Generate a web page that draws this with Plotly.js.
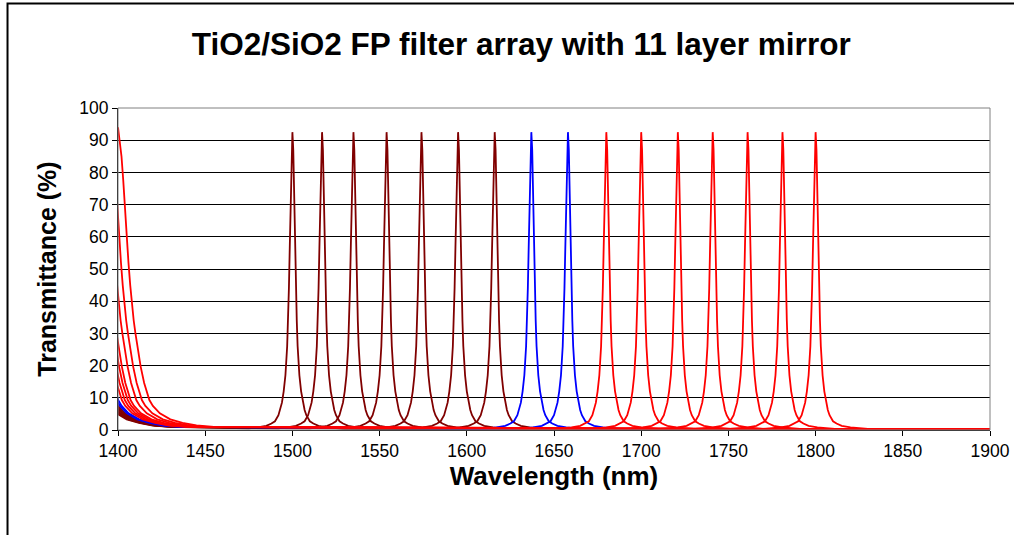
<!DOCTYPE html>
<html>
<head>
<meta charset="utf-8">
<script src="https://cdn.plot.ly/plotly-3.0.1.min.js"></script>
<style>
  html, body { margin: 0; padding: 0; background: #ffffff; }
  #chart { width: 1014px; height: 535px; }
</style>
</head>
<body>
<div id="chart"></div>
<script>
// Peak centre wavelength (nm) of each filter
const PEAK_CENTERS = [1500, 1517, 1535, 1554, 1574, 1595, 1616, 1637, 1658, 1680, 1700, 1721, 1741, 1761, 1781, 1800];
const SERIES_COLORS = ['#800000', '#800000', '#800000', '#800000', '#800000', '#800000', '#800000',
                       '#0000FF', '#0000FF',
                       '#FF0000', '#FF0000', '#FF0000', '#FF0000', '#FF0000', '#FF0000', '#FF0000'];
// Shape of one transmission peak: offset from centre (nm) and transmittance (%)
const PEAK_DX = [-30, -25, -20, -15, -12, -10, -8, -7, -6, -5, -4, -3, -2.5, -2, -1.5, -1, -0.5, 0,
                 0.5, 1, 1.5, 2, 2.5, 3, 4, 5, 6, 7, 8, 10, 12, 15, 20, 25, 30];
const PEAK_T  = [0.35, 0.5, 0.8, 1.3, 2.0, 2.7, 4.6, 6.2, 8.5, 12, 17, 26, 34, 44, 57, 72, 87, 92.5,
                 87, 72, 57, 44, 34, 26, 17, 12, 8.5, 6.2, 4.6, 2.7, 2.0, 1.3, 0.8, 0.5, 0.35];
// Short-wavelength edge (stop-band edge)
const TAIL_X = [1400, 1401, 1402, 1403, 1404, 1405, 1406, 1407, 1408, 1409, 1410, 1411, 1413, 1415, 1418, 1420, 1424, 1430, 1437, 1445, 1455];
const TAIL_T = [94, 90, 85, 77.6, 68.3, 61, 52, 45, 39, 34, 30, 26, 19.7, 14.6, 9.3, 7.5, 5.2, 3.3, 2.2, 1.4, 1.0];
// How far (nm) each series' edge sits to the left of the uppermost one
const TAIL_SHIFT = [25, 24, 23.3, 22.6, 21.7, 20.9, 20, 18.9, 17.9, 15.8, 14.1, 12.4, 10.8, 7.5, 4.3, 0];
// Last point of every series
const END_X = [1900];
const END_T = [0.2];

const X_TICKS = [1400, 1450, 1500, 1550, 1600, 1650, 1700, 1750, 1800, 1850, 1900];
const Y_TICKS = [0, 10, 20, 30, 40, 50, 60, 70, 80, 90, 100];

const traces = PEAK_CENTERS.map((c, i) => {
  const s = TAIL_SHIFT[i];
  const x = TAIL_X.map(v => v - s).concat(PEAK_DX.map(d => c + d), END_X);
  const y = TAIL_T.concat(PEAK_T, END_T);
  return {
    type: 'scatter', mode: 'lines', x: x, y: y,
    line: { color: SERIES_COLORS[i], width: 1.8 },
    hoverinfo: 'x+y', showlegend: false
  };
});

const FONT = 'Liberation Sans, Arial, sans-serif';

const layout = {
  width: 1014, height: 535,
  margin: { l: 118, r: 24, t: 108, b: 105, pad: 0 },
  paper_bgcolor: '#ffffff', plot_bgcolor: '#ffffff',
  font: { family: FONT, color: '#000000', size: 17.5 },
  showlegend: false,
  title: {
    text: '<b>TiO2/SiO2 FP filter array with 11 layer mirror</b>',
    font: { family: FONT, size: 31.5, color: '#000000' },
    xref: 'container', x: 0.514, xanchor: 'center',
    yref: 'container', y: 0.918, yanchor: 'middle'
  },
  xaxis: {
    range: [1400, 1900], tickvals: X_TICKS, ticktext: X_TICKS.map(String),
    ticks: 'outside', ticklen: 5, tickcolor: '#000000', tickwidth: 1,
    showline: true, linecolor: '#000000', linewidth: 1,
    showgrid: false, zeroline: false,
    tickfont: { family: FONT, size: 17.5, color: '#000000' },
    title: { text: '<b>Wavelength (nm)</b>', font: { family: FONT, size: 26, color: '#000000' }, standoff: 5 },
    automargin: false
  },
  yaxis: {
    range: [0, 100], tickvals: Y_TICKS, ticktext: Y_TICKS.map(String),
    ticks: 'outside', ticklen: 5, tickcolor: '#000000', tickwidth: 1,
    showline: true, linecolor: '#000000', linewidth: 1,
    showgrid: true, gridcolor: '#000000', gridwidth: 1,
    zeroline: false,
    tickfont: { family: FONT, size: 17.5, color: '#000000' },
    title: { text: '<b>Transmittance (%)</b>', font: { family: FONT, size: 25, color: '#000000' }, standoff: 15 },
    automargin: false
  },
  shapes: [
    { type: 'rect', xref: 'paper', yref: 'paper', x0: 0, x1: 1, y0: 0, y1: 1,
      line: { color: '#808080', width: 1 }, fillcolor: 'rgba(0,0,0,0)', layer: 'above' },
    { type: 'rect', xref: 'paper', yref: 'paper', x0: -0.1267, x1: 1.06, y0: -0.4, y1: 1.3245,
      line: { color: '#000000', width: 2 }, fillcolor: 'rgba(0,0,0,0)', layer: 'above' }
  ]
};

Plotly.newPlot('chart', traces, layout, { staticPlot: true, displayModeBar: false });
</script>
</body>
</html>
